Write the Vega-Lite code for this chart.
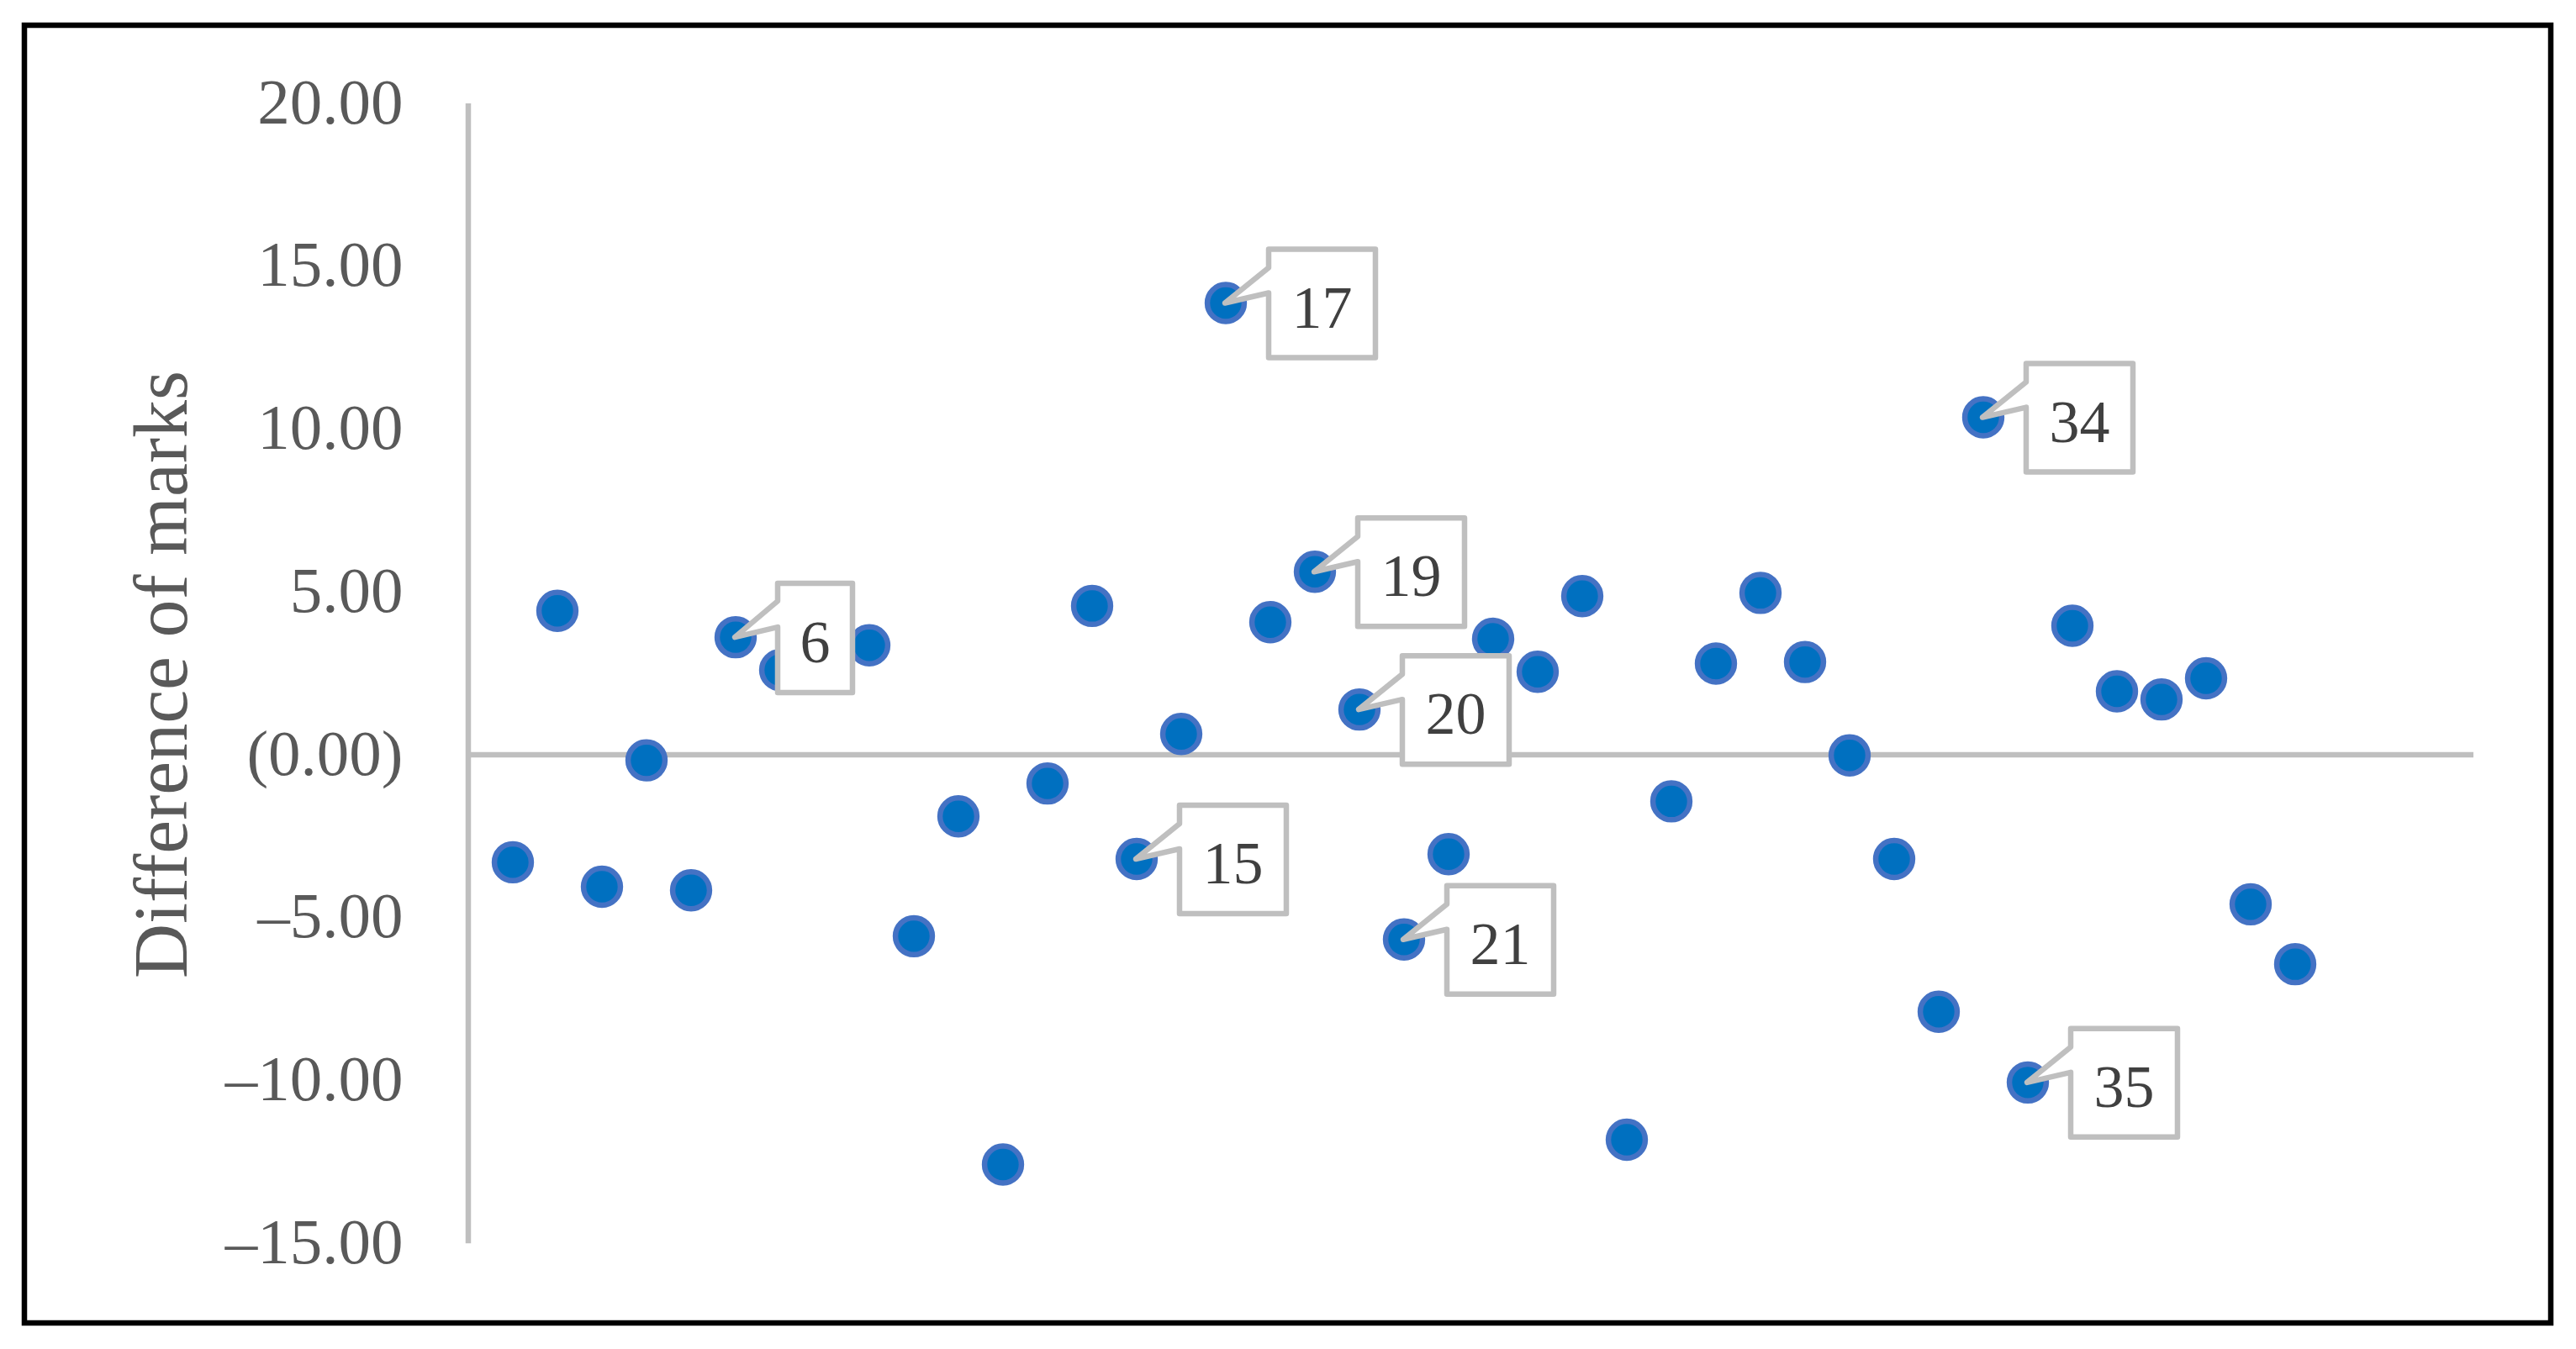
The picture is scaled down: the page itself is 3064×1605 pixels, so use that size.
{
  "$schema": "https://vega.github.io/schema/vega-lite/v6.json",
  "autosize": "none",
  "padding": {"left": 29, "top": 30, "right": 30, "bottom": 31},
  "width": 3005,
  "height": 1544,
  "background": "white",
  "config": {"view": {"stroke": "#000000", "strokeWidth": 6.5}},
  "datasets": {
    "pts": [
      {"n": 1, "diff": -3.30},
      {"n": 2, "diff": 4.42},
      {"n": 3, "diff": -4.05},
      {"n": 4, "diff": -0.17},
      {"n": 5, "diff": -4.16},
      {"n": 6, "diff": 3.61, "label": "6"},
      {"n": 7, "diff": 2.60},
      {"n": 8, "diff": 3.50},
      {"n": 9, "diff": 3.36},
      {"n": 10, "diff": -5.57},
      {"n": 11, "diff": -1.89},
      {"n": 12, "diff": -12.58},
      {"n": 13, "diff": -0.88},
      {"n": 14, "diff": 4.57},
      {"n": 15, "diff": -3.20, "label": "15"},
      {"n": 16, "diff": 0.64},
      {"n": 17, "diff": 13.87, "label": "17"},
      {"n": 18, "diff": 4.07},
      {"n": 19, "diff": 5.62, "label": "19"},
      {"n": 20, "diff": 1.39, "label": "20"},
      {"n": 21, "diff": -5.67, "label": "21"},
      {"n": 22, "diff": -3.05},
      {"n": 23, "diff": 3.56},
      {"n": 24, "diff": 2.55},
      {"n": 25, "diff": 4.87},
      {"n": 26, "diff": -11.82},
      {"n": 27, "diff": -1.43},
      {"n": 28, "diff": 2.80},
      {"n": 29, "diff": 4.97},
      {"n": 30, "diff": 2.85},
      {"n": 31, "diff": -0.02},
      {"n": 32, "diff": -3.20},
      {"n": 33, "diff": -7.89},
      {"n": 34, "diff": 10.36, "label": "34"},
      {"n": 35, "diff": -10.06, "label": "35"},
      {"n": 36, "diff": 3.96},
      {"n": 37, "diff": 1.95},
      {"n": 38, "diff": 1.70},
      {"n": 39, "diff": 2.35},
      {"n": 40, "diff": -4.59},
      {"n": 41, "diff": -6.43}
    ]
  },
  "encoding": {
    "x": {
      "field": "n",
      "type": "quantitative",
      "scale": {"domain": [-9.962, 46.736], "nice": false, "zero": false},
      "axis": null
    },
    "y": {
      "field": "diff",
      "type": "quantitative",
      "scale": {"domain": [-17.445, 22.4], "nice": false, "zero": false},
      "axis": {
        "title": "Difference of marks",
        "values": [-15, -10, -5, 0, 5, 10, 15, 20],
        "labelExpr": "datum.value == 0 ? '(0.00)' : (datum.value < 0 ? '–' + format(-datum.value, '.2f') : format(datum.value, '.2f'))",
        "offset": -528,
        "domain": false,
        "ticks": false,
        "tickSize": 0,
        "grid": false,
        "labelFont": "Liberation Serif",
        "labelFontSize": 77,
        "labelColor": "#595959",
        "labelPadding": 78,
        "labelLimit": 1000,
        "labelOverlap": false,
        "titleFont": "Liberation Serif",
        "titleFontSize": 90,
        "titleFontWeight": "normal",
        "titleColor": "#595959",
        "titlePadding": 117,
        "titleLimit": 2000
      }
    }
  },
  "layer": [
    {
      "data": {"values": [{"n": 0, "n2": 45, "diff": 0}]},
      "mark": {"type": "rule", "color": "#BFBFBF", "strokeWidth": 6.5},
      "encoding": {"x2": {"field": "n2"}}
    },
    {
      "data": {"values": [{"n": 0, "diff": -15, "diff2": 20}]},
      "mark": {"type": "rule", "color": "#BFBFBF", "strokeWidth": 6.5},
      "encoding": {"y2": {"field": "diff2"}}
    },
    {
      "data": {"name": "pts"},
      "mark": {"type": "point", "shape": "circle", "filled": true, "size": 1925, "fill": "#0070C0", "stroke": "#4472C4", "strokeWidth": 6.5, "opacity": 1}
    },
    {
      "data": {"name": "pts"},
      "transform": [{"filter": "datum.label != null"}],
      "mark": {"type": "point", "filled": true, "size": 4, "fill": "#FFFFFF", "stroke": "#BFBFBF", "strokeWidth": 6.5, "strokeJoin": "round", "opacity": 1},
      "encoding": {
        "shape": {
          "condition": {"test": "length(datum.label) == 1", "value": "M50,-64 L139,-64 L139,66 L50,66 L50,-12 L-1,0 L50,-43 Z"},
          "value": "M51,-64 L178,-64 L178,65 L51,65 L51,-12 L-1,0 L51,-42 Z"
        }
      }
    },
    {
      "data": {"name": "pts"},
      "transform": [{"filter": "datum.label != null && length(datum.label) == 2"}],
      "mark": {"type": "text", "font": "Liberation Serif", "fontSize": 72, "color": "#404040", "align": "center", "baseline": "alphabetic", "dx": 114.5, "dy": 29},
      "encoding": {"text": {"field": "label"}}
    },
    {
      "data": {"name": "pts"},
      "transform": [{"filter": "datum.label != null && length(datum.label) == 1"}],
      "mark": {"type": "text", "font": "Liberation Serif", "fontSize": 72, "color": "#404040", "align": "center", "baseline": "alphabetic", "dx": 94.5, "dy": 30},
      "encoding": {"text": {"field": "label"}}
    }
  ]
}
